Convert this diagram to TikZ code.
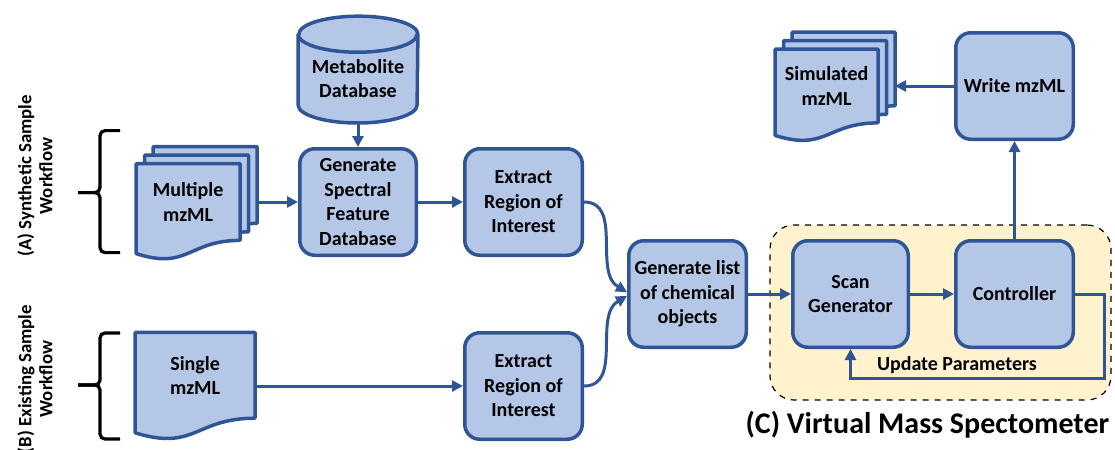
\documentclass[tikz,border=0pt]{standalone}
\usepackage{fontspec}
\setmainfont{Carlito}
\usepackage{xcolor}
\definecolor{BoxBlue}{HTML}{B4C7E7}
\definecolor{LineBlue}{HTML}{2F5597}
\definecolor{SoftYellow}{HTML}{FFF2CC}
\usetikzlibrary{arrows.meta,positioning,calc,backgrounds,fit}
\newcommand{\docpage}[4]{%
  \draw[docline, transform canvas={shift={(#2,#3)}}] (#1.north west) -- (#1.north east) -- (#1.south east)
    .. controls (#1.south) and ([yshift=-#4]#1.south) .. ([yshift=-0.44*#4]#1.south west) -- cycle;}

\begin{document}
\begin{tikzpicture}[>={Triangle[length=5.5pt,width=5.5pt]}, every node/.style={font=\fontsize{10}{12.25}\selectfont\bfseries, align=center},
  stepbox/.style={draw=LineBlue, fill=BoxBlue, line width=1.75pt, rounded corners=7.5pt, minimum width=58.75pt, minimum height=53.25pt, inner sep=1pt},
  docshape/.style={inner sep=1pt},
  docline/.style={draw=LineBlue, fill=BoxBlue, line width=1.75pt, line join=round},
  flow/.style={->, draw=LineBlue, line width=1.5pt},
  bracket/.style={draw=black, line width=1.6pt, rounded corners=2.5pt},
  region/.style={draw=black, dashed, fill=SoftYellow, rounded corners=12pt, line width=0.6pt, inner sep=0pt},
  sidelabel/.style={rotate=90, font=\fontsize{9.4}{10.5}\selectfont\bfseries}]
        \useasboundingbox (0,0) rectangle (557.5pt,-225pt);

        \node[stepbox, minimum width=58.25pt] (spec) at (179pt,-101pt) {Generate\\Spectral\\Feature\\Database};
        \node[docshape, minimum width=59.5pt, minimum height=44pt, above=12pt of spec] (metab) {Metabolite\\Database};
        \node[stepbox, right=22.5pt of spec] (roiA) {Extract\\Region of\\Interest};
        \node[docshape, minimum width=51.5pt, minimum height=38pt, left=29pt of spec] (mult) {Multiple\\mzML};
        \node[stepbox, below=37pt of roiA] (roiB) {Extract\\Region of\\Interest};
        \node[docshape, minimum width=59.5pt, minimum height=42.5pt, anchor=north east] (single) at ([xshift=-104pt,yshift=-0.7pt]roiB.north west) {Single\\mzML};
        \coordinate (roimid) at ($(roiA.east)!0.5!(roiB.east)$);
        \node[stepbox, right=21.5pt of roimid] (chem) {Generate list\\of chemical\\objects};
        \node[stepbox, minimum width=57.75pt, right=21.5pt of chem] (scan) {Scan\\Generator};
        \node[stepbox, right=22pt of scan] (ctrl) {Controller};
        \node[stepbox, above=49pt of ctrl] (write) {Write mzML};
        \node[docshape, minimum width=51pt, minimum height=36.5pt, left=38pt of write] (sim) {Simulated\\mzML};

        \node[sidelabel] (wfA) at (17.5pt,-88pt) {(A) Synthetic Sample\\Workflow};
        \node[sidelabel] (wfB) at (17.5pt,-189.5pt) {(B) Existing Sample\\Workflow};

        \begin{scope}[on background layer]
            \node[region, fit={([xshift=-10.5pt,yshift=7pt]scan.north west) ([xshift=18pt,yshift=-25.5pt]ctrl.south east)}] (vms) {};
            \draw[docline] (metab.north west) -- ([yshift=9pt]metab.south west) arc[start angle=180, end angle=360, x radius=29.75pt, y radius=9pt] -- (metab.north east) arc[start angle=0, end angle=180, x radius=29.75pt, y radius=9pt] -- cycle;
            \draw[docline, fill=none] (metab.north west) arc[start angle=180, end angle=360, x radius=29.75pt, y radius=9pt];
            \docpage{mult}{8.5pt}{8.5pt}{15pt}
            \docpage{mult}{4.25pt}{4.25pt}{15pt}
            \docpage{mult}{0pt}{0pt}{15pt}
            \docpage{sim}{8.5pt}{8.5pt}{14.3pt}
            \docpage{sim}{4.25pt}{4.25pt}{14.3pt}
            \docpage{sim}{0pt}{0pt}{14.3pt}
            \docpage{single}{0pt}{0pt}{16.6pt}
        \end{scope}
        \node[font=\fontsize{15}{18}\selectfont\bfseries, anchor=north east, inner sep=0pt] (vmstitle) at ([xshift=-1pt,yshift=-5pt]vms.south east) {(C) Virtual Mass Spectometer};

        \draw[bracket] (60pt,-65.3pt) -- (50pt,-65.3pt) -- (50pt,-96.3pt) -- (39pt,-96.3pt);
        \draw[bracket] (39pt,-96.3pt) -- (50pt,-96.3pt) -- (50pt,-126.3pt) -- (60pt,-126.3pt);
        \draw[bracket] (60pt,-166.5pt) -- (50pt,-166.5pt) -- (50pt,-192.5pt) -- (39pt,-192.5pt);
        \draw[bracket] (39pt,-192.5pt) -- (50pt,-192.5pt) -- (50pt,-219.5pt) -- (60pt,-219.5pt);

        \draw[flow] (metab) -- (spec);
        \draw[flow] ([xshift=8.5pt]mult.east) -- (spec);
        \draw[flow] (spec) -- (roiA);
        \draw[flow] (single.east |- roiB) -- (roiB);
        \draw[flow] (roiA.east) to[out=0, in=150] ([yshift=1pt]chem.west);
        \draw[flow] (roiB.east) to[out=0, in=210] ([yshift=-1pt]chem.west);
        \draw[flow] (chem) -- (scan);
        \draw[flow] (scan) -- (ctrl);
        \draw[flow] (ctrl) -- (write);
        \draw[flow] (write) -- ([xshift=8.5pt]sim.east);
        \draw[flow] (ctrl.east) -- ++(14.5pt,0) |- node[pos=0.79, above, inner sep=1.5pt] (upd) {Update Parameters} ([yshift=-14.5pt]scan.south) -- (scan.south);
    \end{tikzpicture}
\end{document}
